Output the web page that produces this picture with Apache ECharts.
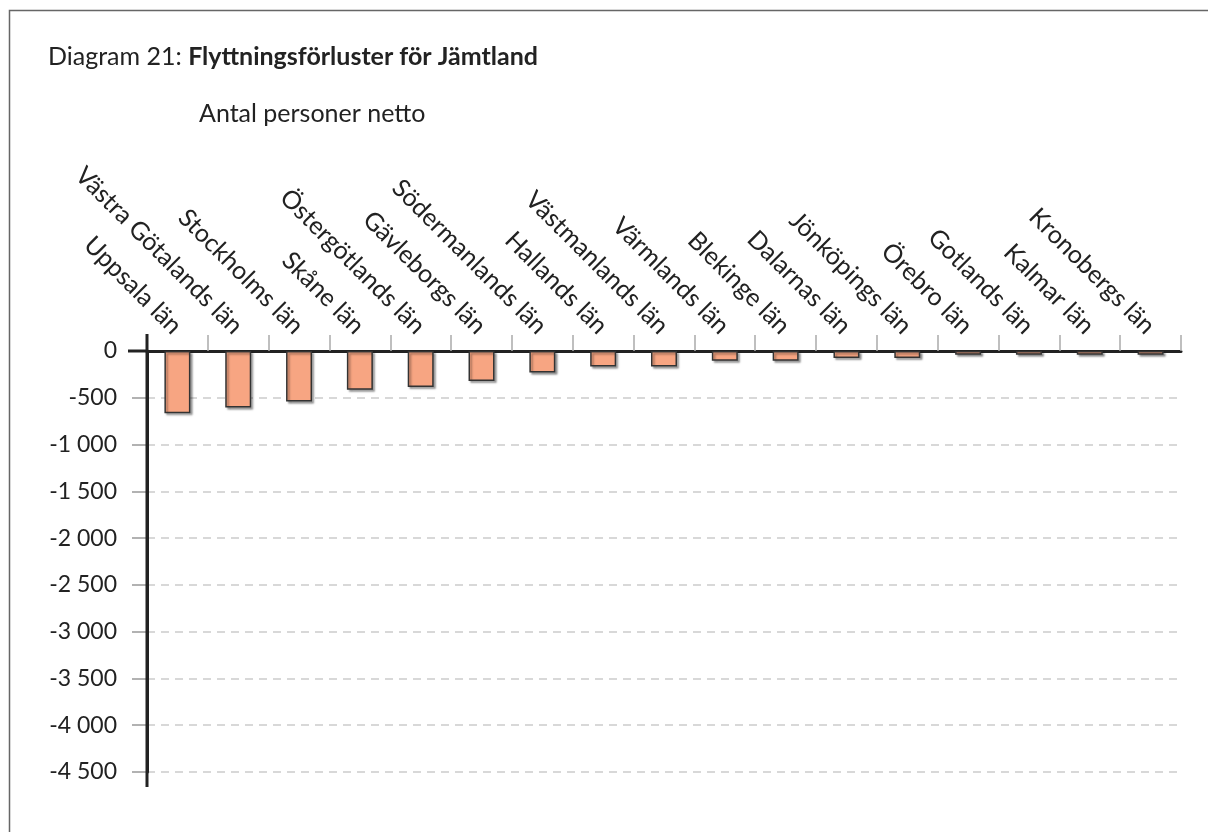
<!DOCTYPE html>
<html>
<head>
<meta charset="utf-8">
<script src="https://cdn.jsdelivr.net/npm/echarts@6/dist/echarts.min.js"></script>
<style>
html,body{margin:0;padding:0;background:#fff;}
#c{width:1208px;height:832px;}
</style>
</head>
<body>
<div id="c"></div>
<script>
const categories = ['Uppsala län','Västra Götalands län','Stockholms län','Skåne län','Östergötlands län','Gävleborgs län','Södermanlands län','Hallands län','Västmanlands län','Värmlands län','Blekinge län','Dalarnas län','Jönköpings län','Örebro län','Gotlands län','Kalmar län','Kronobergs län'];
const values = [-665,-605,-540,-415,-385,-320,-230,-165,-165,-105,-105,-75,-75,-40,-40,-40,-40];
const yMin = -4500, yMax = 0, yStep = 500;

const FONT = 'Lato';
const chart = echarts.init(document.getElementById('c'), null, {renderer:'canvas'});

function fmt(v){
  const s = Math.abs(v).toString().replace(/\B(?=(\d{3})+(?!\d))/g, ' ');
  return (v < 0 ? '-' : '') + s;
}

chart.setOption({
  animation:false,
  backgroundColor:'#fff',
  textStyle:{fontFamily:FONT},
  grid:{left:147, right:27, top:351, bottom:60, containLabel:false},
  xAxis:{
    type:'category', position:'top', data:categories,
    axisLine:{show:true, lineStyle:{color:'#222', width:3}},
    axisTick:{show:true, length:16, lineStyle:{color:'#aaa', width:1.5}},
    axisLabel:{interval:0, rotate:-45, fontSize:25, color:'#222', fontFamily:FONT, margin:21},
    splitLine:{show:false}
  },
  yAxis:{
    type:'value', min:yMin, max:yMax, interval:yStep,
    axisLine:{show:true, lineStyle:{color:'#222', width:3}},
    axisTick:{show:true, length:15, lineStyle:{color:'#999', width:1.5}},
    axisLabel:{fontSize:23, color:'#222', fontFamily:FONT, margin:30, formatter:fmt},
    splitLine:{show:true, lineStyle:{color:'#ccc', type:[8,6], width:1.5}}
  },
  series:[{
    type:'bar', data:values, barWidth:26,
    itemStyle:{color:'#F7A582', borderColor:'#333', borderWidth:1.5,
      shadowColor:'rgba(0,0,0,0.35)', shadowOffsetX:2, shadowOffsetY:2, shadowBlur:2}
  }]
});

const p0 = chart.convertToPixel({gridIndex:0}, [0, 0]);
const pMin = chart.convertToPixel({gridIndex:0}, [0, yMin]);
const axisX = 147;
chart.setOption({
  graphic:[
    {type:'rect', shape:{x:9.5, y:10.5, width:1400, height:1000}, style:{fill:'none', stroke:'#666', lineWidth:1.5}, silent:true},
    {type:'text', left:48, top:44, style:{text:'{n|Diagram 21: }{b|Flyttningsförluster för Jämtland}',
      rich:{n:{fontFamily:FONT, fontSize:25, fill:'#222'}, b:{fontFamily:FONT, fontSize:25, fontWeight:'bold', fill:'#222'}}}},
    {type:'text', left:199, top:101, style:{text:'Antal personer netto', fontFamily:FONT, fontSize:25, fill:'#222'}},
    {type:'line', shape:{x1:axisX, y1:p0[1]-17, x2:axisX, y2:pMin[1]+15}, style:{stroke:'#222', lineWidth:3}, z:100},
    {type:'line', shape:{x1:axisX-19, y1:p0[1], x2:axisX, y2:p0[1]}, style:{stroke:'#222', lineWidth:3}, z:100}
  ]
});
</script>
</body>
</html>
